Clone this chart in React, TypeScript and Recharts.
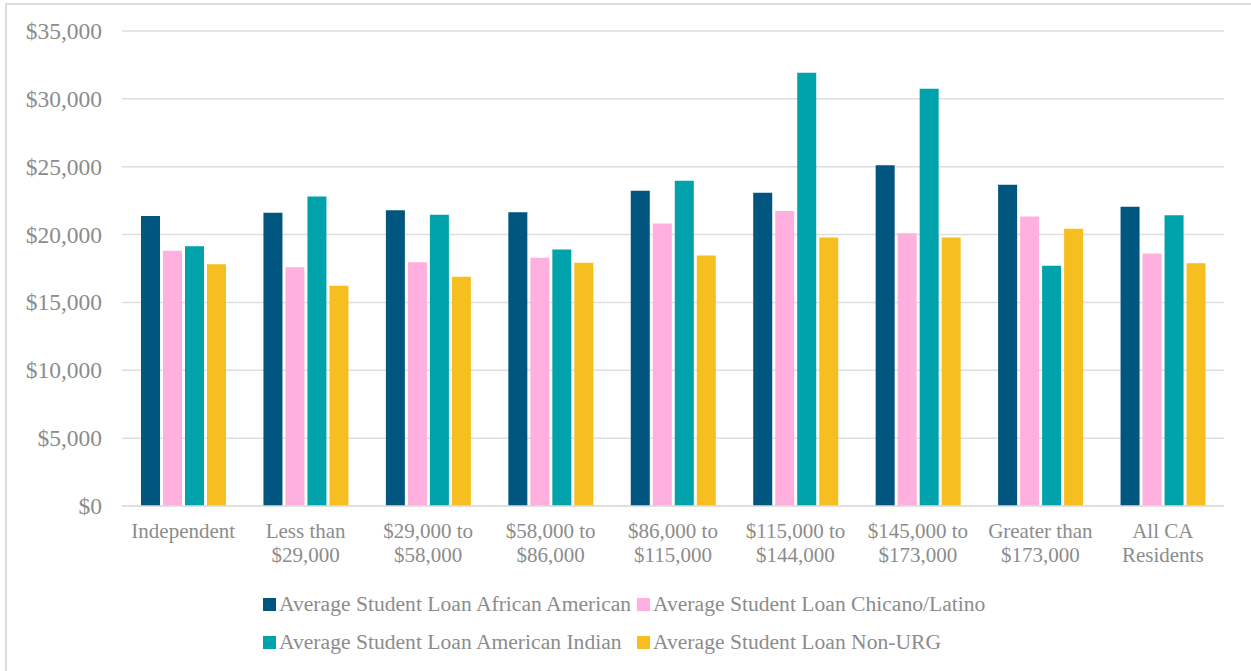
import { BarChart, Bar, XAxis, YAxis, CartesianGrid } from "recharts";

const categories = [
  "Independent",
  "Less than\n$29,000",
  "$29,000 to\n$58,000",
  "$58,000 to\n$86,000",
  "$86,000 to\n$115,000",
  "$115,000 to\n$144,000",
  "$145,000 to\n$173,000",
  "Greater than\n$173,000",
  "All CA\nResidents",
];

const africanAmerican = [21360, 21600, 21800, 21650, 23230, 23080, 25100, 23670, 22050];
const chicanoLatino = [18800, 17600, 17960, 18290, 20820, 21730, 20100, 21330, 18600];
const americanIndian = [19140, 22810, 21460, 18900, 23970, 31930, 30750, 17700, 21430];
const nonUrg = [17820, 16220, 16890, 17920, 18460, 19790, 19790, 20430, 17890];

const yTicks = [0, 5000, 10000, 15000, 20000, 25000, 30000, 35000];

const series = [
  { key: "aa", name: "Average Student Loan African American", color: "#01567f" },
  { key: "latino", name: "Average Student Loan Chicano/Latino", color: "#ffb0df" },
  { key: "indian", name: "Average Student Loan American Indian", color: "#00a2ac" },
  { key: "nonurg", name: "Average Student Loan Non-URG", color: "#f7be1f" },
];

const data = categories.map((c, i) => ({
  category: c,
  aa: africanAmerican[i],
  latino: chicanoLatino[i],
  indian: americanIndian[i],
  nonurg: nonUrg[i],
}));

const FONT = "Liberation Serif, Times New Roman, Times, DejaVu Serif";
const TEXT = "#8c8c8c";

const CategoryTick = (props: any) => {
  const { x, y, payload } = props;
  const lines = String(payload.value).split("\n");
  return (
    <text x={x} y={y} textAnchor="middle" fill={TEXT} style={{ fontFamily: FONT }} fontSize={21}>
      {lines.map((l, i) => (
        <tspan key={i} x={x} dy={24}>
          {l}
        </tspan>
      ))}
    </text>
  );
};

const money = (v: number) => "$" + v.toLocaleString("en-US");

const YTick = (props: any) => {
  const { x, y, payload } = props;
  return (
    <text x={x} y={y} dy={8} textAnchor="end" fill={TEXT} style={{ fontFamily: FONT }} fontSize={23.5}>
      {money(payload.value)}
    </text>
  );
};

export default function App() {
  return (
    <div style={{ position: "absolute", left: 0, top: 0, width: 1251, height: 671, background: "#fff", overflow: "hidden" }}>
      <div
        style={{
          position: "absolute",
          left: 5,
          top: 3,
          width: 1260,
          height: 700,
          borderLeft: "2px solid #dcdcdc",
          borderTop: "2px solid #dcdcdc",
        }}
      />
      <div style={{ position: "absolute", left: 0, top: 0 }}>
        <BarChart
          width={1251}
          height={671}
          data={data}
          margin={{ top: 31, right: 27, bottom: 105, left: 0 }}
          barSize={19}
          barGap={3}
        >
          <CartesianGrid vertical={false} stroke="#dedede" strokeWidth={1.5} />
          <XAxis
            dataKey="category"
            interval={0}
            height={60}
            tickLine={false}
            axisLine={{ stroke: "#dedede", strokeWidth: 1.5 }}
            tick={<CategoryTick />}
          />
          <YAxis
            width={122}
            domain={[0, 35000]}
            ticks={yTicks}
            axisLine={false}
            tickLine={false}
            tickSize={0}
            tickMargin={20}
            tick={<YTick />}
          />
          {series.map((s) => (
            <Bar key={s.key} dataKey={s.key} name={s.name} fill={s.color} isAnimationActive={false} />
          ))}
        </BarChart>
      </div>
      {series.map((s, i) => (
        <div
          key={s.key}
          style={{
            position: "absolute",
            left: i % 2 === 0 ? 263 : 637,
            top: i < 2 ? 591 : 629,
            display: "flex",
            alignItems: "center",
            fontFamily: FONT,
            fontSize: 21.6,
            color: TEXT,
            whiteSpace: "nowrap",
            lineHeight: "26px",
          }}
        >
          <span style={{ display: "inline-block", width: 13, height: 13, background: s.color, marginRight: 3 }} />
          {s.name}
        </div>
      ))}
    </div>
  );
}
